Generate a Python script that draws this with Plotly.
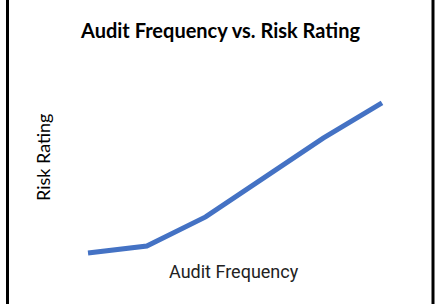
import plotly.graph_objects as go

audit_frequency = [1, 2, 3, 4, 5, 6]
risk_rating = [0.47, 0.93, 2.87, 5.53, 8.13, 10.47]

W, H = 441, 304
L, R, T, B = 60, 31, 60, 44  # plot area: x 60..410, y 60..260
pw, ph = W - L - R, H - T - B

def px(x):
    return (x - L) / pw

def py(y):
    return (H - B - y) / ph

fig = go.Figure()
fig.add_trace(go.Scatter(
    x=audit_frequency, y=risk_rating, mode="lines",
    line=dict(color="#4472C4", width=5, shape="linear"),
    hoverinfo="skip", showlegend=False,
))

x0 = 1 - 28 / 58.8
fig.update_xaxes(range=[x0, x0 + pw / 58.8], visible=False, fixedrange=True)
fig.update_yaxes(range=[0, ph / 15], visible=False, fixedrange=True)

annotations = [
    dict(text="<b>Audit Frequency vs. Risk Rating</b>", x=px(220), y=py(30),
         font=dict(family="Lato", size=20, color="#000000")),
    dict(text="Audit Frequency", x=px(234), y=py(271),
         font=dict(family="Roboto", size=18, color="#222222")),
    dict(text="Risk Rating", x=px(43), y=py(158), textangle=-90,
         font=dict(family="Lato", size=18, color="#000000")),
]
for a in annotations:
    fig.add_annotation(xref="paper", yref="paper", showarrow=False,
                       xanchor="center", yanchor="middle", **a)

for bx in (7.5, 433):
    fig.add_shape(type="line", xref="paper", yref="paper",
                  x0=px(bx), x1=px(bx), y0=py(-2), y1=py(H + 2),
                  line=dict(color="black", width=3))

fig.update_layout(
    width=W, height=H, margin=dict(l=L, r=R, t=T, b=B),
    paper_bgcolor="white", plot_bgcolor="white",
)
fig.write_html("out.html", config={"displayModeBar": False})
